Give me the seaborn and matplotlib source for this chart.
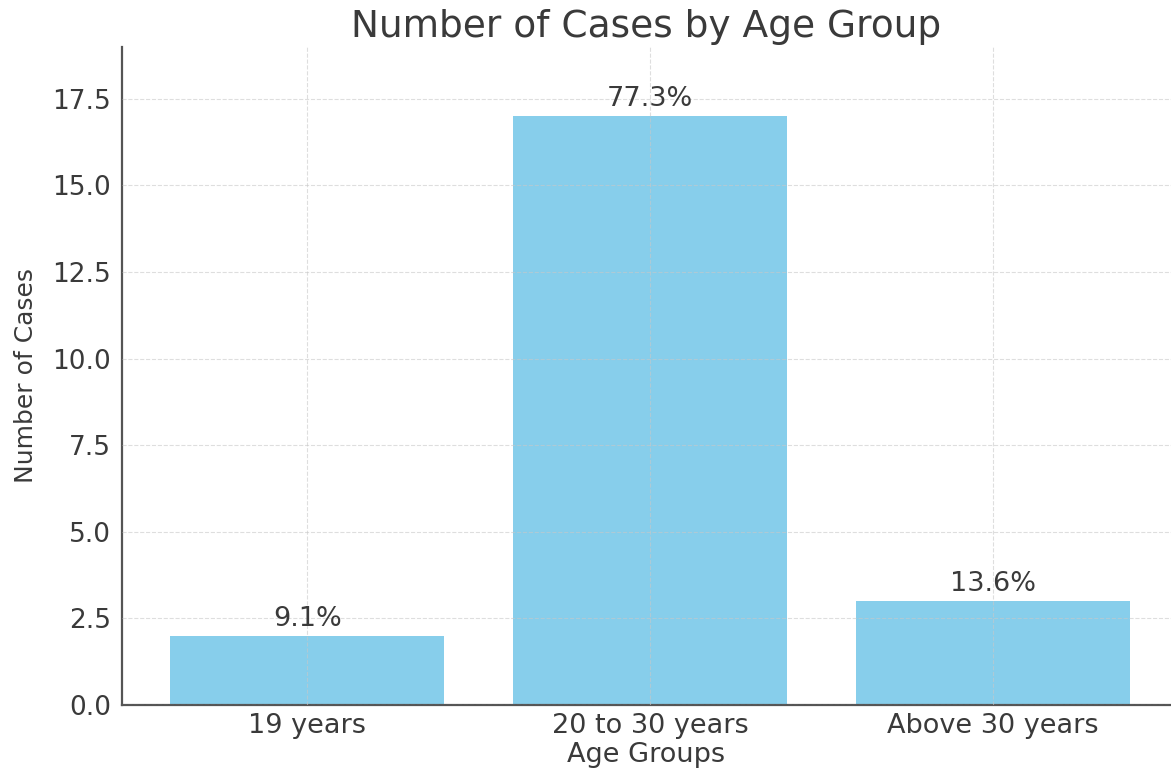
import matplotlib
matplotlib.use("Agg")
import matplotlib.pyplot as plt
import seaborn as sns
import pandas as pd

# Case counts per age group
age_groups = ["19 years", "20 to 30 years", "Above 30 years"]
case_counts = [2, 17, 3]

title = "Number of Cases by Age Group"
x_label = "Age Groups"
y_label = "Number of Cases"
y_ticks = [0.0, 2.5, 5.0, 7.5, 10.0, 12.5, 15.0, 17.5]

sns.set_theme(style="white")
plt.rcParams["font.family"] = ["DejaVu Sans"]

text_color = "#3a3a3a"
df = pd.DataFrame({"group": age_groups, "cases": case_counts})
total = sum(case_counts)

fig = plt.figure(figsize=(11.71, 7.68), dpi=100)
ax = fig.add_axes([0.1042, 0.082, 0.8958, 0.857])

sns.barplot(data=df, x="group", y="cases", color="#87CEEB", saturation=1,
            width=0.8, linewidth=0, ax=ax)

# Share of total above each bar
for i, c in enumerate(case_counts):
    ax.annotate(f"{c / total * 100:.1f}%", (i, c), xytext=(0, 3),
                textcoords="offset points", ha="center", va="bottom",
                fontsize=19.5, color=text_color)

ax.set_xlim(-0.54, 2.52)
ax.set_ylim(0, 19.0)
ax.set_yticks(y_ticks)
ax.set_yticklabels([f"{t:.1f}" for t in y_ticks])

ax.set_axisbelow(False)
ax.grid(True, color="#c8c8c8", linestyle="--", linewidth=0.8, alpha=0.6)

for side in ("top", "right"):
    ax.spines[side].set_visible(False)
for side in ("left", "bottom"):
    ax.spines[side].set_color("#555555")
    ax.spines[side].set_linewidth(1.6)

ax.tick_params(axis="both", direction="in", length=6, width=1,
               color="#555555", labelsize=19, labelcolor=text_color)
ax.tick_params(axis="x", pad=6, labelsize=19.5)
ax.tick_params(axis="y", pad=8)

ax.set_title(title, fontsize=27, color=text_color, pad=7)
ax.set_xlabel(x_label, fontsize=19.5, color=text_color, labelpad=2)
ax.set_ylabel(y_label, fontsize=18, color=text_color, labelpad=10)

fig.savefig("out.png", dpi=100)
